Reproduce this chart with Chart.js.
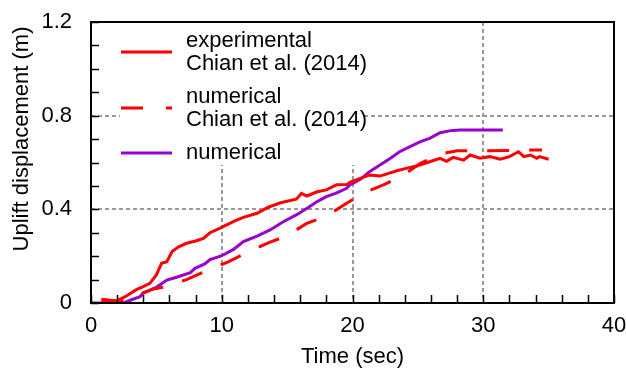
<!DOCTYPE html>
<html>
<head>
<meta charset="utf-8">
<script src="https://cdn.jsdelivr.net/npm/chart.js@4/dist/chart.umd.min.js"></script>
<style>
  html, body { margin: 0; padding: 0; background: #fff; }
  #wrap { width: 626px; height: 369px; position: relative; }
</style>
</head>
<body>
<div id="wrap"><canvas id="chart"></canvas></div>
<script>
// experimental, Chian et al. (2014)
const expTime = [0.8, 1.5, 2.0, 2.7, 3.5, 4.0, 4.5, 5.0, 5.4, 5.8, 6.2, 6.7, 7.3, 8.0, 8.6, 9.1, 9.7, 10.1, 11.0, 11.65, 12.7, 13.6, 14.5, 15.7, 16.1, 16.5, 17.3, 18.0, 18.8, 19.6, 19.8, 20.5, 21.3, 22.1, 23.4, 24.1, 24.9, 25.9, 26.7, 27.2, 27.7, 28.5, 29.0, 29.75, 30.5, 31.3, 32.0, 32.7, 33.1, 33.6, 34.1, 34.3, 35.0];
const expDisp = [0.016, 0.012, 0.01, 0.03, 0.058, 0.07, 0.084, 0.12, 0.17, 0.176, 0.22, 0.24, 0.255, 0.265, 0.276, 0.30, 0.315, 0.326, 0.351, 0.366, 0.383, 0.41, 0.428, 0.443, 0.468, 0.457, 0.475, 0.483, 0.505, 0.506, 0.515, 0.53, 0.547, 0.542, 0.565, 0.575, 0.585, 0.603, 0.618, 0.605, 0.622, 0.61, 0.632, 0.618, 0.625, 0.614, 0.625, 0.646, 0.625, 0.632, 0.618, 0.625, 0.614];

// numerical, Chian et al. (2014)
const chianTime = [0.8, 2.0, 2.5, 3.5, 4.75, 5.8, 7.3, 8.85, 10.5, 11.9, 13.55, 14.95, 16.5, 18.0, 19.55, 20.8, 22.5, 23.9, 25.2, 26.7, 28.0, 30.0, 33.6, 34.5];
const chianDisp = [0.012, 0.008, 0.01, 0.03, 0.06, 0.07, 0.10, 0.138, 0.176, 0.215, 0.257, 0.286, 0.34, 0.371, 0.426, 0.468, 0.508, 0.547, 0.597, 0.636, 0.65, 0.65, 0.653, 0.653];

// numerical (this study)
const numTime = [0, 2.5, 3.2, 3.75, 4.0, 4.5, 5.0, 5.8, 6.55, 7.6, 7.95, 8.7, 9.1, 9.9, 10.1, 10.9, 11.65, 12.7, 13.7, 14.7, 15.7, 16.5, 17.3, 18.0, 18.8, 19.55, 19.8, 20.6, 21.3, 22.1, 22.9, 23.6, 24.4, 25.2, 25.9, 26.7, 27.5, 28.2, 31.5];
const numDisp = [0, 0, 0.016, 0.027, 0.044, 0.055, 0.067, 0.098, 0.11, 0.13, 0.148, 0.167, 0.185, 0.2, 0.205, 0.229, 0.262, 0.286, 0.312, 0.347, 0.376, 0.404, 0.433, 0.454, 0.47, 0.49, 0.504, 0.528, 0.561, 0.589, 0.618, 0.646, 0.668, 0.689, 0.703, 0.727, 0.736, 0.739, 0.739];

const xTicks = [0, 10, 20, 30, 40];
const yTicks = [0, 0.4, 0.8, 1.2];

const FONT = "'Liberation Sans', Arial, sans-serif";
const RED = '#ff0000';
const PURPLE = '#9900cc';
const GRID = '#999999';

function pts(t, v) {
  return t.map((x, i) => ({ x: x, y: v[i] }));
}

function noPad(s) {
  s.paddingTop = 0; s.paddingBottom = 0; s.paddingLeft = 0; s.paddingRight = 0;
}

// white legend box over the grid, with two-line labels
const legendBox = {
  id: 'legendBox',
  beforeDatasetsDraw(chart) {
    const ctx = chart.ctx;
    ctx.save();
    ctx.fillStyle = '#fff';
    ctx.fillRect(120, 23, 245, 142);
    ctx.restore();
  },
  afterDatasetsDraw(chart) {
    const ctx = chart.ctx;
    ctx.save();
    ctx.lineWidth = 3;
    ctx.strokeStyle = RED;
    ctx.beginPath(); ctx.moveTo(121, 52); ctx.lineTo(172, 52); ctx.stroke();
    ctx.setLineDash([22, 23]);
    ctx.beginPath(); ctx.moveTo(121, 108); ctx.lineTo(172, 108); ctx.stroke();
    ctx.setLineDash([]);
    ctx.strokeStyle = PURPLE;
    ctx.beginPath(); ctx.moveTo(121, 153); ctx.lineTo(172, 153); ctx.stroke();

    ctx.fillStyle = '#000';
    ctx.font = '22px ' + FONT;
    ctx.textBaseline = 'middle';
    ctx.textAlign = 'left';
    ctx.fillText('experimental', 186, 41);
    ctx.fillText('Chian et al. (2014)', 186, 64);
    ctx.fillText('numerical', 186, 97);
    ctx.fillText('Chian et al. (2014)', 186, 120);
    ctx.fillText('numerical', 186, 153);
    ctx.restore();
  }
};

// frame, inward ticks and axis titles
const frame = {
  id: 'frame',
  afterDraw(chart) {
    const ctx = chart.ctx;
    const a = chart.chartArea;
    const xs = chart.scales.x, ys = chart.scales.y;
    ctx.save();
    ctx.strokeStyle = '#000';
    ctx.lineWidth = 1.5;
    ctx.beginPath();
    for (let t = 0; t <= 40; t += 2) {
      const px = Math.round(xs.getPixelForValue(t)) + 0.5;
      ctx.moveTo(px, a.bottom); ctx.lineTo(px, a.bottom - 8);
    }
    for (let k = 0; k <= 12; k++) {
      const py = Math.round(ys.getPixelForValue(k / 10)) + 0.5;
      ctx.moveTo(a.left, py); ctx.lineTo(a.left + 8, py);
    }
    ctx.stroke();
    ctx.lineWidth = 2;
    ctx.strokeRect(a.left, a.top, a.right - a.left, a.bottom - a.top);

    ctx.fillStyle = '#000';
    ctx.font = '22px ' + FONT;
    ctx.textAlign = 'center';
    ctx.textBaseline = 'middle';
    ctx.fillText('Time (sec)', (a.left + a.right) / 2, 357);
    ctx.translate(22, 139);
    ctx.rotate(-Math.PI / 2);
    ctx.fillText('Uplift displacement (m)', 0, 0);
    ctx.restore();
  }
};

new Chart(document.getElementById('chart'), {
  type: 'line',
  data: {
    datasets: [
      {
        label: 'experimental Chian et al. (2014)',
        data: pts(expTime, expDisp),
        borderColor: RED,
        borderWidth: 3,
        pointRadius: 0,
        tension: 0
      },
      {
        label: 'numerical Chian et al. (2014)',
        data: pts(chianTime, chianDisp),
        borderColor: RED,
        borderWidth: 3,
        borderDash: [22, 20],
        pointRadius: 0,
        tension: 0
      },
      {
        label: 'numerical',
        data: pts(numTime, numDisp),
        borderColor: PURPLE,
        borderWidth: 3,
        pointRadius: 0,
        tension: 0
      }
    ]
  },
  options: {
    responsive: true,
    maintainAspectRatio: false,
    animation: false,
    layout: { padding: { top: 22, right: 12, left: 0, bottom: 0 } },
    plugins: {
      legend: { display: false },
      tooltip: { enabled: false }
    },
    scales: {
      x: {
        type: 'linear',
        min: 0,
        max: 40,
        afterFit(s) { s.height = 66; noPad(s); },
        afterBuildTicks(s) { s.ticks = xTicks.map(v => ({ value: v })); },
        ticks: { font: { size: 22, family: FONT }, color: '#000', padding: 10, maxRotation: 0 },
        grid: {
          drawTicks: false,
          lineWidth: 2,
          color: c => (c.tick && c.tick.value > 0 && c.tick.value < 40) ? GRID : 'rgba(0,0,0,0)'
        },
        border: { display: false, dash: [4, 3] }
      },
      y: {
        min: 0,
        max: 1.2,
        afterFit(s) { s.width = 91; noPad(s); },
        afterBuildTicks(s) { s.ticks = yTicks.map(v => ({ value: v })); },
        ticks: { font: { size: 22, family: FONT }, color: '#000', padding: 19, callback: v => String(v) },
        grid: {
          drawTicks: false,
          lineWidth: 2,
          color: c => (c.tick && c.tick.value > 0.01 && c.tick.value < 1.19) ? GRID : 'rgba(0,0,0,0)'
        },
        border: { display: false, dash: [4, 3] }
      }
    }
  },
  plugins: [legendBox, frame]
});
</script>
</body>
</html>
